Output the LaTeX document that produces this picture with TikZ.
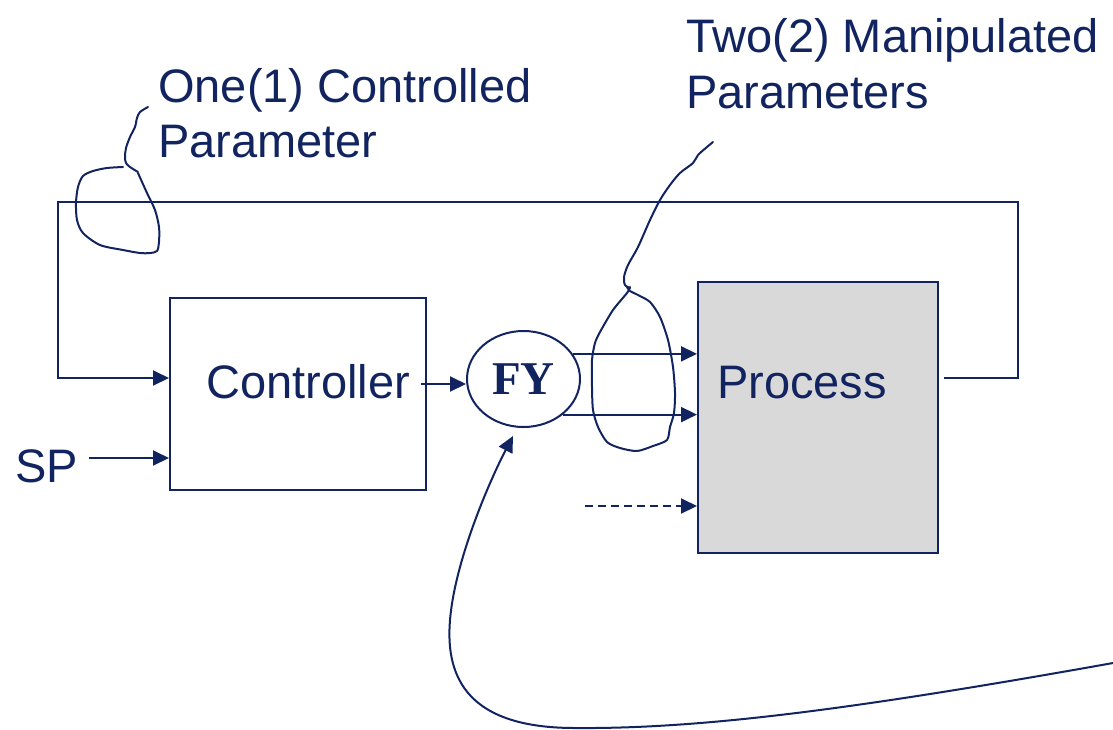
\documentclass[tikz,border=0pt]{standalone}
\usepackage{fontspec}
\setmainfont{Liberation Sans}
\newfontfamily\fyfont{Liberation Serif}
\usetikzlibrary{arrows.meta,shapes.geometric}
\definecolor{navy}{RGB}{17,36,96}
\definecolor{procgray}{RGB}{217,217,217}
\begin{document}
\begin{tikzpicture}[x=1pt,y=-1pt,
  conn/.style={color=navy,line width=2pt,-{Triangle[length=16pt,width=15pt]}},
  line/.style={color=navy,line width=2pt},
  hand/.style={color=navy,line width=2pt,line join=round,line cap=round},
  lbl/.style={text=navy,font=\fontsize{47}{56}\selectfont,inner sep=0pt,anchor=base west},
  blockbox/.style={draw=navy,line width=2pt,inner sep=0pt},
]
\useasboundingbox (0,0) rectangle (1113,729);

% blocks
\node[blockbox,minimum width=256pt,minimum height=192pt] (ctrl) at (298,394) {};
\node[lbl] (ctrltxt) at (206,398) {Controller};
\node[blockbox,fill=procgray,minimum width=240pt,minimum height=271pt] (proc) at (818,417.5) {};
\node[lbl] (proctxt) at (717,398) {Process};
\node[ellipse,draw=navy,line width=2pt,minimum width=113pt,minimum height=96pt,inner sep=0pt,
      text=navy,font=\fyfont\bfseries\fontsize{47}{56}\selectfont] (fy) at (523.5,379) {FY};

% labels
\node[lbl] (sp) at (15,482) {SP};
\node[lbl] (one1) at (158,102) {One(1) Controlled};
\node[lbl] (one2) at (158,157) {Parameter};
\node[lbl] (two1) at (686,52) {Two(2) Manipulated};
\node[lbl] (two2) at (686,108) {Parameters};

% connectors
\coordinate (fbstart) at (944,378);
\draw[conn] (fbstart) -- (1018,378) -- (1018,202) -- (58,202) -- (58,378) -- (ctrl.west |- fbstart);

\coordinate (spstart) at (89,458);
\draw[conn] (spstart) -- (ctrl.west |- spstart);

\coordinate (cstart) at (421,384);
\draw[conn] (cstart) -- (fy.west |- cstart);

\draw[conn] (fy.27.4) -- (proc.west |- fy.27.4);
\draw[conn] (fy.-42.1) -- (proc.west |- fy.-42.1);

\coordinate (dstart) at (585,506);
\draw[conn,dash pattern=on 8pt off 5pt] (dstart) -- (proc.west |- dstart);

\coordinate (bigstart) at (1113,663);
\coordinate (fytip) at (513,436);
\draw[conn] (bigstart) .. controls (850,710) and (700,729) .. (575,728)
  .. controls (470,728) and (445,680) .. (450,620)
  .. controls (455,560) and (490,480) .. (fytip);

% hand-drawn annotation loops
\draw[hand] plot[smooth,tension=0.5] coordinates {(148,107) (140,112) (137,118) (135,127) (130,137) (126,148) (125,157) (126,163) (130,167) (138,172)};
\draw[hand] plot[smooth,tension=0.5] coordinates {(138,173) (147,193) (155,210) (159,227) (159,242) (157,251) (150,253) (140,253) (123,250) (100,245) (83,233) (77,220) (76,203) (78,187) (83,176) (93,171) (107,168) (123,167)};

\draw[hand] plot[smooth,tension=0.5] coordinates {(713,142) (707,147) (698,155) (693,163) (680,173) (670,185) (660,200) (650,220) (638,247) (628,265) (624,277) (625,285) (630,288)};
\draw[hand] plot[smooth,tension=0.45] coordinates {(630,287) (627,293) (613,310) (600,332) (595,343) (592,360) (592,387) (593,410) (598,427) (607,442) (620,448) (637,451) (653,446) (667,440) (670,427) (674,413) (675,393) (673,367) (668,340) (660,317) (650,302) (638,295) (630,291) (627,287)};
\end{tikzpicture}
\end{document}
